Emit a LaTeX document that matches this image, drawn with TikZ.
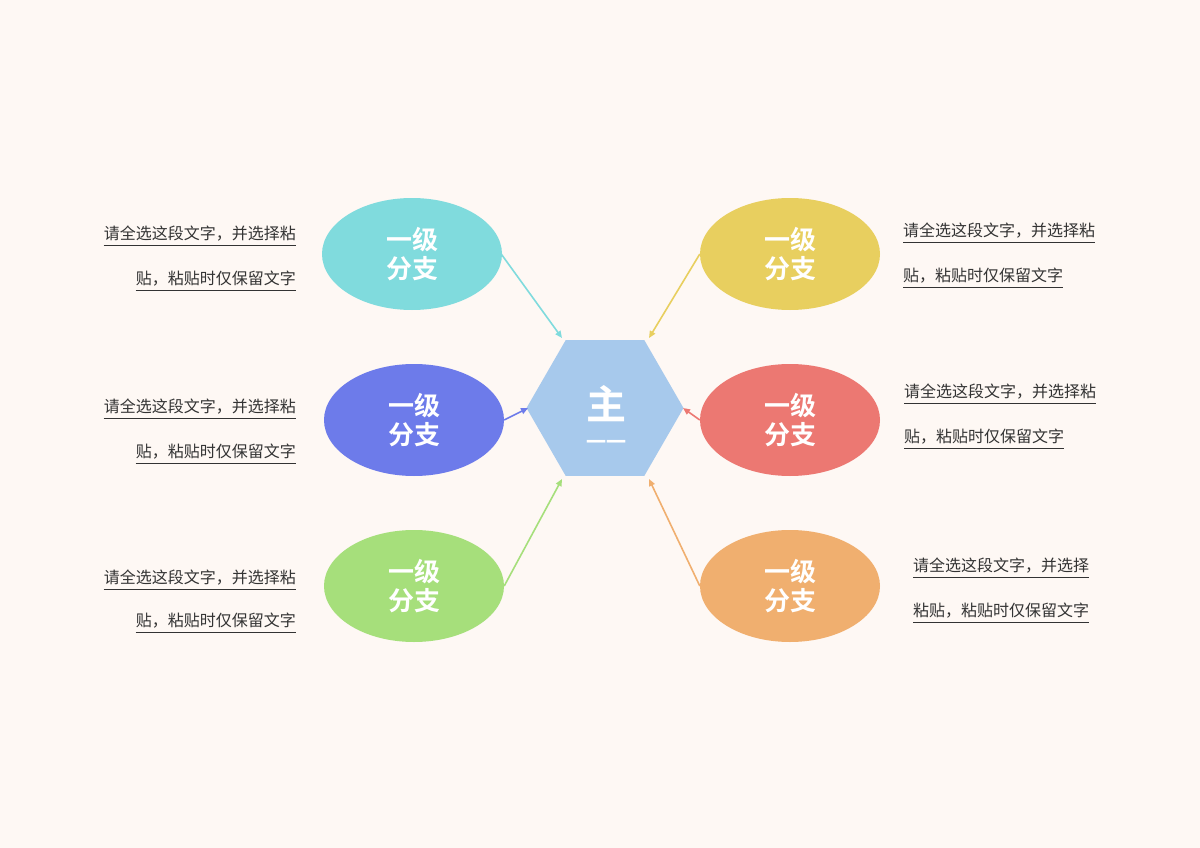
\documentclass[tikz,border=0pt]{standalone}
\usepackage{fontspec}
\setmainfont{Noto Sans CJK SC}
\newfontfamily\cjkb{Noto Sans CJK SC Bold}
\usetikzlibrary{shapes.geometric,arrows.meta}
\definecolor{bg}{HTML}{FEF8F4}
\definecolor{cA}{HTML}{80DBDD}
\definecolor{cB}{HTML}{6D7BEA}
\definecolor{cC}{HTML}{A6DF7B}
\definecolor{cD}{HTML}{E8CF5F}
\definecolor{cE}{HTML}{EC7872}
\definecolor{cF}{HTML}{F0AF6F}
\definecolor{hex}{HTML}{A7C9EC}
\definecolor{tx}{HTML}{333333}
\tikzset{
 x=1pt,y=-1pt,
 branch/.style={ellipse,fill=#1,minimum width=180pt,minimum height=112pt,inner sep=0,text=white,font=\cjkb\fontsize{26}{29}\selectfont,align=center},
 link/.style={draw=#1,line width=1.6pt,-{Triangle[length=7pt,width=6pt]}},
 note/.style={text=tx,font=\fontsize{16}{18}\selectfont,inner sep=0},
}
\newcommand{\uline}[1]{\draw[tx,line width=0.8pt] ([yshift=-4pt]#1.south west) -- ([yshift=-4pt]#1.south east);}
\begin{document}
\begin{tikzpicture}
\fill[bg] (0,0) rectangle (1200,848);
\useasboundingbox (0,0) rectangle (1200,848);
\node[regular polygon,regular polygon sides=6,fill=hex,minimum size=157pt,inner sep=0] (c) at (605,408) {};
\node[text=white,font=\cjkb\fontsize{40}{44}\selectfont] (ct) at (606,404) {主};
\node[text=white,font=\cjkb\fontsize{20}{20}\selectfont,inner sep=0] (ct2) at (606,445) {一一};
\node[branch=cA] (a) at (412,254) {一级\\分支};
\node[branch=cB] (b) at (414,420) {一级\\分支};
\node[branch=cC] (cc) at (414,586) {一级\\分支};
\node[branch=cD] (d) at (790,254) {一级\\分支};
\node[branch=cE] (e) at (790,420) {一级\\分支};
\node[branch=cF] (f) at (790,586) {一级\\分支};
\coordinate (htl) at (562,338); \coordinate (htr) at (649,338);
\coordinate (hl) at (528,408); \coordinate (hr) at (683,408);
\coordinate (hbl) at (562,479); \coordinate (hbr) at (649,479);
\draw[link=cA] (a.east) ++(-1,0) -- (htl);
\draw[link=cB] (b.east) -- (hl);
\draw[link=cC] (cc.east) -- (hbl);
\draw[link=cD] (d.west) -- (htr);
\draw[link=cE] (e.west) -- (hr);
\draw[link=cF] (f.west) -- (hbr);
% left notes
\node[note,anchor=base east] (n1a) at (296,239) {请全选这段文字，并选择粘}; \uline{n1a}
\node[note,anchor=base east] (n1b) at (296,284) {贴，粘贴时仅保留文字}; \uline{n1b}
\node[note,anchor=base east] (n2a) at (296,412) {请全选这段文字，并选择粘}; \uline{n2a}
\node[note,anchor=base east] (n2b) at (296,457) {贴，粘贴时仅保留文字}; \uline{n2b}
\node[note,anchor=base east] (n3a) at (296,583) {请全选这段文字，并选择粘}; \uline{n3a}
\node[note,anchor=base east] (n3b) at (296,626) {贴，粘贴时仅保留文字}; \uline{n3b}
% right notes
\node[note,anchor=base west] (m1a) at (903,236) {请全选这段文字，并选择粘}; \uline{m1a}
\node[note,anchor=base west] (m1b) at (903,281) {贴，粘贴时仅保留文字}; \uline{m1b}
\node[note,anchor=base west] (m2a) at (904,397) {请全选这段文字，并选择粘}; \uline{m2a}
\node[note,anchor=base west] (m2b) at (904,442) {贴，粘贴时仅保留文字}; \uline{m2b}
\node[note,anchor=base west] (m3a) at (913,571) {请全选这段文字，并选择}; \uline{m3a}
\node[note,anchor=base west] (m3b) at (913,616) {粘贴，粘贴时仅保留文字}; \uline{m3b}
\end{tikzpicture}
\end{document}
